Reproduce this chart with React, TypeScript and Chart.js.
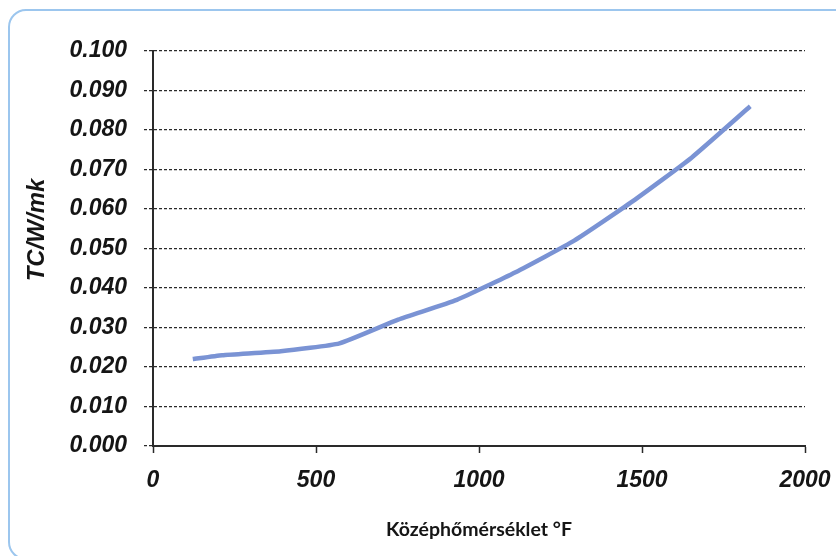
import React, { useEffect, useRef } from "react";
import { Chart, registerables } from "chart.js";

Chart.register(...registerables);

const temperaturesF: number[] = [122, 212, 392, 572, 752, 932, 1112, 1292, 1472, 1652, 1832];
const conductivity: number[] = [0.022, 0.023, 0.024, 0.026, 0.032, 0.037, 0.044, 0.052, 0.062, 0.073, 0.086];
const xTicks: number[] = [0, 500, 1000, 1500, 2000];
const yAxisTitle = "TC/W/mk";
const xAxisTitle = "Középhőmérséklet °F";

const TEXT = "#151515";
const AXIS = "#2a2a2a";

const yTitlePlugin = {
  id: "yTitlePlugin",
  afterDraw(chart: any) {
    const ctx = chart.ctx;
    ctx.save();
    ctx.translate(37, 230);
    ctx.rotate(-Math.PI / 2);
    ctx.font = "italic bold 24px 'Liberation Sans', Arial, sans-serif";
    ctx.fillStyle = TEXT;
    ctx.textAlign = "center";
    ctx.textBaseline = "middle";
    ctx.fillText(yAxisTitle, 0, 0);
    ctx.restore();
  },
};

export default function App() {
  const canvasRef = useRef<HTMLCanvasElement | null>(null);

  useEffect(() => {
    if (!canvasRef.current) return;
    const points = temperaturesF.map((x, i) => ({ x, y: conductivity[i] }));
    const chart = new Chart(canvasRef.current, {
      type: "line",
      data: {
        datasets: [
          {
            data: points,
            borderColor: "#7a93d4",
            borderWidth: 4.5,
            pointRadius: 0,
            tension: 0.15,
            fill: false,
          },
        ],
      },
      options: {
        animation: false,
        responsive: false,
        maintainAspectRatio: false,
        layout: { padding: { left: 0, top: 51, right: 31, bottom: 0 } },
        plugins: { legend: { display: false }, tooltip: { enabled: false } },
        scales: {
          x: {
            type: "linear",
            min: 0,
            max: 2000,
            afterBuildTicks: (scale: any) => {
              scale.ticks = xTicks.map((v) => ({ value: v }));
            },
            afterFit: (scale: any) => {
              scale.height = 556 - 446;
              scale.paddingLeft = 0;
              scale.paddingRight = 0;
            },
            grid: {
              drawOnChartArea: false,
              drawTicks: true,
              tickLength: 7,
              tickColor: AXIS,
              tickWidth: 1.5,
            },
            border: { display: true, color: AXIS, width: 2 },
            ticks: {
              color: TEXT,
              padding: 14,
              maxRotation: 0,
              font: { family: "'Liberation Sans', Arial, sans-serif", size: 23, style: "italic", weight: "bold" },
              callback: (v: any) => String(v),
            },
            title: {
              display: true,
              text: xAxisTitle,
              color: TEXT,
              padding: { top: 0, bottom: 15 },
              font: { family: "Lato, 'Open Sans', sans-serif", size: 19.5, weight: "bold" },
            },
          },
          y: {
            type: "linear",
            min: 0,
            max: 0.1,
            afterFit: (scale: any) => {
              scale.width = 153;
              scale.paddingTop = 0;
              scale.paddingBottom = 0;
            },
            ticks: {
              stepSize: 0.01,
              color: TEXT,
              padding: 17,
              font: { family: "'Liberation Sans', Arial, sans-serif", size: 23, style: "italic", weight: "bold" },
              callback: (v: any) => Number(v).toFixed(3),
            },
            grid: {
              color: AXIS,
              lineWidth: 1.3,
              drawTicks: true,
              tickLength: 9,
              tickColor: AXIS,
              tickBorderDash: [3, 2],
            },
            border: { display: true, color: AXIS, width: 2, dash: [3, 2] },
          },
        },
      },
      plugins: [yTitlePlugin],
    });
    return () => chart.destroy();
  }, []);

  return (
    <div
      style={{
        position: "fixed",
        left: 0,
        top: 0,
        width: 836,
        height: 556,
        overflow: "hidden",
        background: "#ffffff",
      }}
    >
      <div
        style={{
          position: "absolute",
          left: 8,
          top: 9,
          width: 900,
          height: 551,
          border: "2px solid #9cc6ee",
          borderRadius: 18,
          boxSizing: "border-box",
        }}
      />
      <canvas
        ref={canvasRef}
        width={836}
        height={556}
        style={{ position: "absolute", left: 0, top: 0, width: 836, height: 556 }}
      />
    </div>
  );
}
